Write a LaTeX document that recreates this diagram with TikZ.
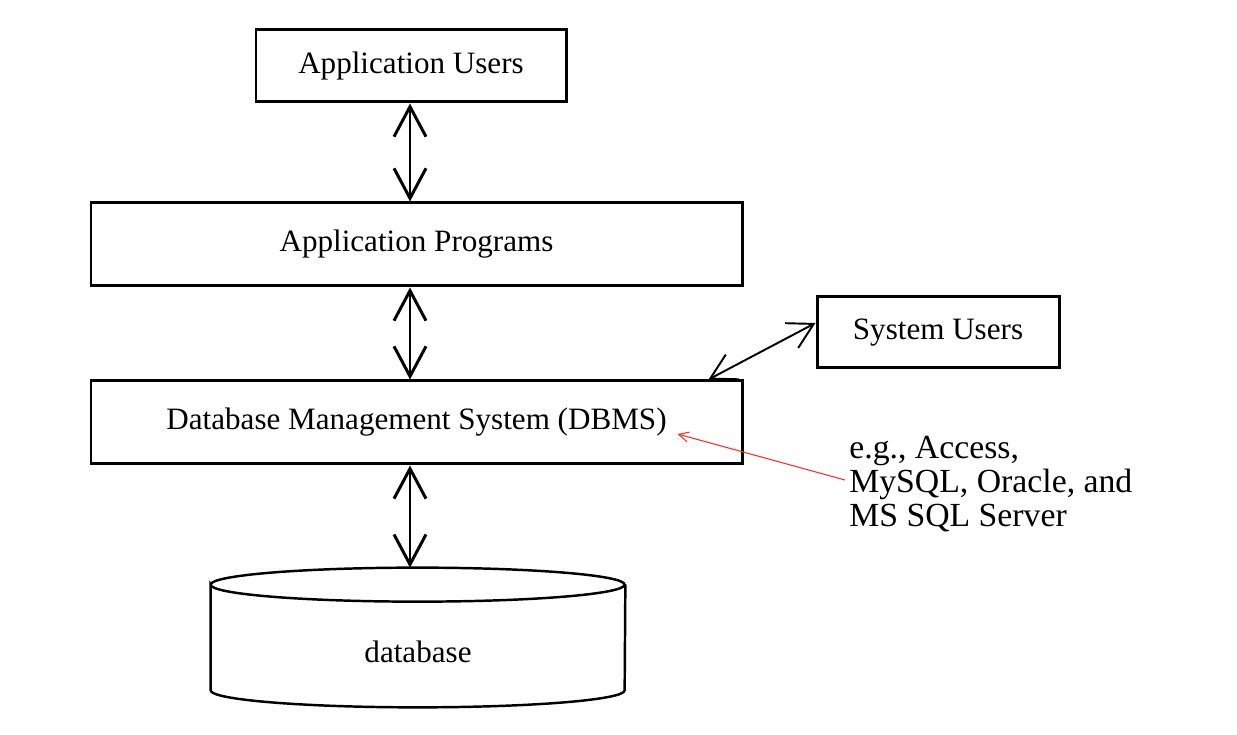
\documentclass[tikz,border=0pt]{standalone}
\usepackage{fontspec}
\setmainfont{Liberation Serif}
\usepackage{xcolor}
\definecolor{notered}{RGB}{250,45,35}
\usetikzlibrary{arrows.meta, calc}

\begin{document}
\begin{tikzpicture}[
    layerbox/.style={draw, line width=1.7pt, inner sep=0pt,
                     font=\fontsize{17.7}{20}\selectfont},
    biarrow/.style={{Straight Barb[length=6mm,width=6.4mm]}-{Straight Barb[length=6mm,width=6.4mm]},
                    line width=1.7pt},
  ]
  \useasboundingbox (0,0) rectangle (24.74,14.7);

  % Top -- application users
  \node[layerbox, minimum width=6.2cm, minimum height=1.44cm] (appusers)
       at (8.22,13.38) {Application Users};

  % Application programs
  \node[layerbox, minimum width=13.02cm, minimum height=1.66cm] (appprogs)
       at (8.33,9.81) {Application Programs};

  % DBMS
  \node[layerbox, minimum width=13.02cm, minimum height=1.66cm] (dbms)
       at (8.33,6.25) {Database Management System (DBMS)};

  % System users (side box)
  \node[layerbox, minimum width=4.84cm, minimum height=1.42cm] (sysusers)
       at (18.76,8.05) {System Users};

  % Database cylinder (bottom)
  \node[minimum width=8.28cm, minimum height=2.78cm, inner sep=0pt] (db) at (8.36,1.95) {};
  \draw[line width=1.4pt]
       ([yshift=-0.34cm]db.north west)
       arc[start angle=180, end angle=-180, x radius=4.14cm, y radius=0.34cm]
       -- ([yshift=0.34cm]db.south west)
       arc[start angle=180, end angle=360, x radius=4.14cm, y radius=0.34cm]
       -- ([yshift=-0.34cm]db.north east);
  \node[font=\fontsize{17.7}{20}\selectfont] (dblabel) at ([yshift=-0.28cm]db.center) {database};

  % Side note
  \node[anchor=west, align=left, inner sep=0pt, font=\fontsize{19.2}{19.4}\selectfont] (note)
       at (16.98,5.02) {e.g., Access,\\MySQL, Oracle, and\\MS SQL Server};

  % Two-way arrows
  \draw[biarrow] (appusers.south -| 8.2,0) -- (appprogs.north -| 8.2,0);
  \draw[biarrow] (appprogs.south -| 8.2,0) -- (dbms.north -| 8.2,0);
  \draw[biarrow] (dbms.south -| 8.2,0) -- (db.north -| 8.2,0);
  \draw[{Straight Barb[length=5mm,width=5.6mm]}-{Straight Barb[length=5mm,width=5.6mm]}, line width=1.1pt]
       ([xshift=-0.7cm]dbms.north east) -- ([yshift=0.19cm]sysusers.west);

  % Pointer from note to DBMS
  \draw[-{Straight Barb[length=2mm,width=2mm]}, notered, line width=0.6pt]
       ([xshift=-0.08cm,yshift=0.08cm]note.west) -- ([xshift=-1.32cm,yshift=-0.23cm]dbms.east);
\end{tikzpicture}
\end{document}
